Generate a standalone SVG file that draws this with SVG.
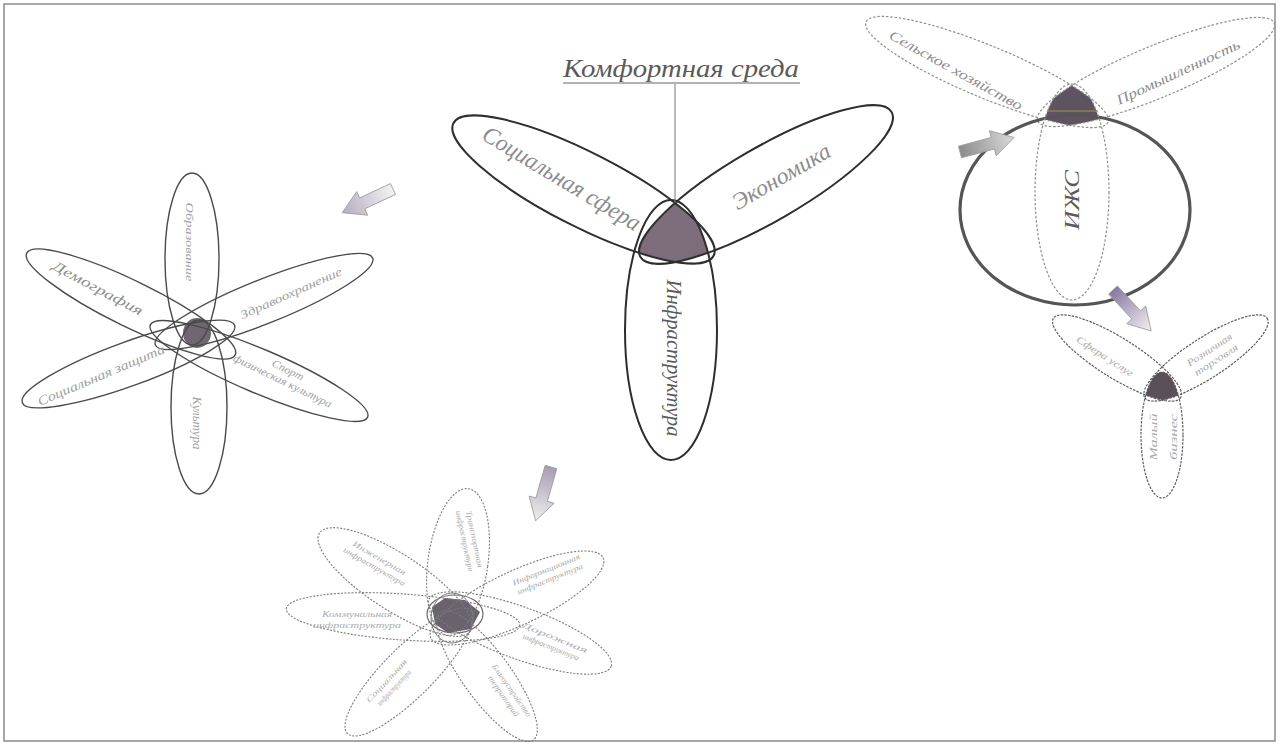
<svg xmlns="http://www.w3.org/2000/svg" width="1280" height="744" viewBox="0 0 1280 744">
<style>
.lbl{font-family:"Liberation Serif","DejaVu Serif",serif;font-style:italic;text-anchor:middle;}
.t-main{fill:#8c8c8c;}
.t-dark{fill:#5a5a5a;}
.t-light{fill:#a0a0a0;}
.t-pale{fill:#ababab;}
.frame{fill:none;stroke:#8a8a8a;stroke-width:1.5}
.pc{fill:none;stroke:#2e2e2e;stroke-width:2}
.pl{fill:none;stroke:#4a4a4a;stroke-width:1.4}
.pd{fill:none;stroke:#8e8e8e;stroke-width:1.2;stroke-dasharray:2.5 1.8}
.ps{fill:none;stroke:#5e5e5e;stroke-width:1.2;stroke-dasharray:2.5 1.2}
.pb{fill:none;stroke:#7a7a7a;stroke-width:1.1;stroke-dasharray:2 1.5}
.arrow{stroke:#9a9a9a;stroke-width:0.8}
</style>
<defs>
<path id="arr" d="M0,-6 L34,-6 L34,-13 L56,0 L34,13 L34,6 L0,6 Z"/>
<linearGradient id="gLav" x1="0" y1="0" x2="1" y2="0"><stop offset="0" stop-color="#f2f2f2"/><stop offset="1" stop-color="#b6adc2"/></linearGradient>
<linearGradient id="gLav2" x1="0" y1="0" x2="1" y2="0"><stop offset="0" stop-color="#a89cb4"/><stop offset="1" stop-color="#eeeeee"/></linearGradient>
<linearGradient id="gGray" x1="0" y1="0" x2="1" y2="0"><stop offset="0" stop-color="#8c8c8c"/><stop offset="1" stop-color="#dadada"/></linearGradient>
<linearGradient id="gPur" x1="0" y1="0" x2="1" y2="0"><stop offset="0" stop-color="#8a78a0"/><stop offset="1" stop-color="#f2f2f2"/></linearGradient>
<clipPath id="cSoc"><ellipse cx="583.5" cy="189.5" rx="146" ry="37" transform="rotate(27 583.5 189.5)"/></clipPath>
<clipPath id="cEco"><ellipse cx="766" cy="184.5" rx="145" ry="37" transform="rotate(-30 766 184.5)"/></clipPath>
<clipPath id="cAgr"><ellipse cx="987" cy="72" rx="131" ry="26" transform="rotate(22.5 987 72)"/></clipPath>
<clipPath id="cInd"><ellipse cx="1156" cy="72" rx="128" ry="26" transform="rotate(-22.5 1156 72)"/></clipPath>
<clipPath id="cSL"><ellipse cx="1117" cy="358" rx="75" ry="20" transform="rotate(32 1117 358)"/></clipPath>
<clipPath id="cSR"><ellipse cx="1206" cy="358" rx="73" ry="20" transform="rotate(-33 1206 358)"/></clipPath>
</defs>
<rect x="0" y="0" width="1280" height="744" fill="#ffffff"/>
<rect class="frame" x="4" y="4" width="1271" height="737"/>

<!-- Central group: Комфортная среда -->
<g id="komfortnaya-sreda">
<text class="lbl t-dark" x="681" y="77" font-size="25" textLength="236" lengthAdjust="spacingAndGlyphs">Комфортная среда</text>
<line x1="563" y1="83" x2="800" y2="83" stroke="#666" stroke-width="1"/>
</g>
<g id="center-core">
<g clip-path="url(#cSoc)"><g clip-path="url(#cEco)"><ellipse cx="671" cy="330" rx="46" ry="130" fill="#7d6c79"/></g></g>
</g>
<g id="socialnaya-sfera">
<ellipse class="pc" cx="583.5" cy="189.5" rx="146" ry="37" transform="rotate(27 583.5 189.5)"/>
<text class="lbl t-main" font-size="24" textLength="180" lengthAdjust="spacingAndGlyphs" transform="translate(562 178) rotate(31)" dy="0.35em">Социальная сфера</text>
</g>
<g id="ekonomika">
<ellipse class="pc" cx="766" cy="184.5" rx="145" ry="37" transform="rotate(-30 766 184.5)"/>
<text class="lbl t-main" font-size="23" textLength="110" lengthAdjust="spacingAndGlyphs" transform="translate(781 176) rotate(-30)" dy="0.35em">Экономика</text>
</g>
<g id="infrastruktura">
<ellipse class="pc" cx="671" cy="330" rx="46" ry="130"/>
<text class="lbl t-dark" font-size="22" textLength="157" lengthAdjust="spacingAndGlyphs" transform="translate(675 358) rotate(90)" dy="0.35em">Инфраструктура</text>
</g>

<!-- Top-right group -->
<g id="tr-core">
<g clip-path="url(#cAgr)"><g clip-path="url(#cInd)"><ellipse cx="1072" cy="192" rx="37" ry="108" fill="#5e5460"/></g></g>
<line x1="1048" y1="111" x2="1098" y2="111" stroke="#9c8e62" stroke-width="1.5" opacity="0.7"/>
</g>
<g id="selskoe-hozyaistvo">
<ellipse class="pd" cx="987" cy="72" rx="131" ry="26" transform="rotate(22.5 987 72)"/>
<text class="lbl t-main" font-size="14" textLength="150" lengthAdjust="spacingAndGlyphs" transform="translate(956 70) rotate(29)" dy="0.35em">Сельское хозяйство</text>
</g>
<g id="promyshlennost">
<ellipse class="pd" cx="1156" cy="72" rx="128" ry="26" transform="rotate(-22.5 1156 72)"/>
<text class="lbl t-main" font-size="14" textLength="135" lengthAdjust="spacingAndGlyphs" transform="translate(1178 72) rotate(-25)" dy="0.35em">Промышленность</text>
</g>
<g id="izhs">
<ellipse cx="1075" cy="210" rx="115" ry="95" fill="none" stroke="#555" stroke-width="3.2"/>
<ellipse class="pd" cx="1072" cy="192" rx="37" ry="108"/>
<text class="lbl t-dark" font-size="20" textLength="60" lengthAdjust="spacingAndGlyphs" transform="translate(1072 200) rotate(-90)" dy="0.35em">ИЖС</text>
</g>

<!-- Small right group -->
<g id="sr-core">
<g clip-path="url(#cSL)"><g clip-path="url(#cSR)"><ellipse cx="1162" cy="435" rx="21" ry="63" fill="#5b4f5a"/></g></g>
</g>
<g id="sfera-uslug">
<ellipse class="ps" cx="1117" cy="358" rx="75" ry="20" transform="rotate(32 1117 358)"/>
<text class="lbl t-pale" font-size="10" textLength="66" lengthAdjust="spacingAndGlyphs" transform="translate(1105 356) rotate(33)" dy="0.35em">Сфера услуг</text>
</g>
<g id="torgovlya">
<ellipse class="ps" cx="1206" cy="358" rx="73" ry="20" transform="rotate(-33 1206 358)"/>
<g transform="translate(1213 355) rotate(-33)">
<text class="lbl t-pale" font-size="10" y="-3" textLength="52" lengthAdjust="spacingAndGlyphs">Розничная</text>
<text class="lbl t-pale" font-size="10" y="9" textLength="50" lengthAdjust="spacingAndGlyphs">торговля</text>
</g>
</g>
<g id="malyi-biznes">
<ellipse class="ps" cx="1162" cy="435" rx="21" ry="63"/>
<g transform="translate(1163 437) rotate(-90)">
<text class="lbl t-pale" font-size="10" y="-6" textLength="47" lengthAdjust="spacingAndGlyphs">Малый</text>
<text class="lbl t-pale" font-size="10" y="14" textLength="46" lengthAdjust="spacingAndGlyphs">бизнес</text>
</g>
</g>

<!-- Left group: social sphere -->
<g id="left-core">
<ellipse cx="197" cy="333" rx="14" ry="15" fill="#6f6672"/>
</g>
<g id="obrazovanie">
<ellipse class="pl" cx="192" cy="259" rx="27" ry="86"/>
<text class="lbl t-light" font-size="11" textLength="79" lengthAdjust="spacingAndGlyphs" transform="translate(190 242) rotate(90)" dy="0.35em">Образование</text>
</g>
<g id="kultura">
<ellipse class="pl" cx="199" cy="407" rx="28" ry="87"/>
<text class="lbl t-light" font-size="12" textLength="53" lengthAdjust="spacingAndGlyphs" transform="translate(197 423) rotate(90)" dy="0.35em">Культура</text>
</g>
<g id="demografiya">
<ellipse class="pl" cx="131" cy="304" rx="116" ry="23" transform="rotate(26 131 304)"/>
<text class="lbl t-main" font-size="14" textLength="100" lengthAdjust="spacingAndGlyphs" transform="translate(98 288) rotate(28)" dy="0.35em">Демография</text>
</g>
<g id="zdravoohranenie">
<ellipse class="pl" cx="264" cy="301.5" rx="117" ry="22" transform="rotate(-21.8 264 301.5)"/>
<text class="lbl t-light" font-size="12" textLength="110" lengthAdjust="spacingAndGlyphs" transform="translate(291 293) rotate(-24)" dy="0.35em">Здравоохранение</text>
</g>
<g id="socialnaya-zashchita">
<ellipse class="pl" cx="128.5" cy="364" rx="113" ry="22" transform="rotate(-20 128.5 364)"/>
<text class="lbl t-light" font-size="13" textLength="137" lengthAdjust="spacingAndGlyphs" transform="translate(101 375) rotate(-23)" dy="0.35em">Социальная защита</text>
</g>
<g id="sport">
<ellipse class="pl" cx="259" cy="371" rx="118" ry="22" transform="rotate(23 259 371)"/>
<g transform="translate(285 376) rotate(26)">
<text class="lbl t-light" font-size="11" y="-3" textLength="34" lengthAdjust="spacingAndGlyphs">Спорт</text>
<text class="lbl t-light" font-size="11" y="9" textLength="108" lengthAdjust="spacingAndGlyphs">физическая культура</text>
</g>
</g>

<!-- Bottom group: infrastructure -->
<g id="bottom-core">
<path d="M432,607 L445,598 L465,600 L480,612 L471,629 L448,633 L435,624 Z" fill="#6a626c"/>
<ellipse cx="455" cy="614" rx="28" ry="19" fill="none" stroke="#6a6a6a" stroke-width="1.2"/>
<ellipse cx="452" cy="618" rx="21" ry="25" fill="none" stroke="#7a7a7a" stroke-width="1"/>
</g>
<g id="transportnaya">
<ellipse class="pb" cx="458" cy="562" rx="30" ry="74" transform="rotate(8 458 562)"/>
<g transform="translate(470 540) rotate(78)">
<text class="lbl t-pale" font-size="8" y="-2" textLength="58" lengthAdjust="spacingAndGlyphs">Транспортная</text>
<text class="lbl t-pale" font-size="8" y="8" textLength="62" lengthAdjust="spacingAndGlyphs">инфраструктура</text>
</g>
</g>
<g id="inzhenernaya">
<ellipse class="pb" cx="395" cy="582" rx="90" ry="28" transform="rotate(33 395 582)"/>
<g transform="translate(377 562) rotate(30)">
<text class="lbl t-pale" font-size="8" y="-2" textLength="60" lengthAdjust="spacingAndGlyphs">Инженерная</text>
<text class="lbl t-pale" font-size="8" y="8" textLength="70" lengthAdjust="spacingAndGlyphs">инфраструктура</text>
</g>
</g>
<g id="informacionnaya">
<ellipse class="pb" cx="517" cy="598" rx="95" ry="27" transform="rotate(-25 517 598)"/>
<g transform="translate(548 574) rotate(-22)">
<text class="lbl t-pale" font-size="8" y="-2" textLength="72" lengthAdjust="spacingAndGlyphs">Информационная</text>
<text class="lbl t-pale" font-size="8" y="8" textLength="70" lengthAdjust="spacingAndGlyphs">инфраструктура</text>
</g>
</g>
<g id="kommunalnaya">
<ellipse class="pb" cx="403" cy="617" rx="117" ry="23" transform="rotate(4 403 617)"/>
<g transform="translate(357 620)">
<text class="lbl t-pale" font-size="8" y="-3" textLength="70" lengthAdjust="spacingAndGlyphs">Коммунальная</text>
<text class="lbl t-pale" font-size="8" y="8" textLength="88" lengthAdjust="spacingAndGlyphs">инфраструктура</text>
</g>
</g>
<g id="dorozhnaya">
<ellipse class="pb" cx="520" cy="633" rx="97" ry="26" transform="rotate(20 520 633)"/>
<g transform="translate(553 642) rotate(22)">
<text class="lbl t-pale" font-size="8" y="-2" textLength="70" lengthAdjust="spacingAndGlyphs">Дорожная</text>
<text class="lbl t-pale" font-size="8" y="8" textLength="60" lengthAdjust="spacingAndGlyphs">инфраструктура</text>
</g>
</g>
<g id="socialnaya-infra">
<ellipse class="pb" cx="409" cy="672" rx="87" ry="25" transform="rotate(-45 409 672)"/>
<g transform="translate(390 684) rotate(-47)">
<text class="lbl t-pale" font-size="8" y="-2" textLength="56" lengthAdjust="spacingAndGlyphs">Социальная</text>
<text class="lbl t-pale" font-size="8" y="8" textLength="46" lengthAdjust="spacingAndGlyphs">инфраструктура</text>
</g>
</g>
<g id="blagoustroystvo">
<ellipse class="pb" cx="487" cy="676" rx="79" ry="24" transform="rotate(54 487 676)"/>
<g transform="translate(508 693) rotate(55)">
<text class="lbl t-pale" font-size="8" y="-2" textLength="62" lengthAdjust="spacingAndGlyphs">Благоустройство</text>
<text class="lbl t-pale" font-size="8" y="8" textLength="48" lengthAdjust="spacingAndGlyphs">территорий</text>
</g>
</g>

<!-- Connectors -->
<g id="connectors">
<line x1="675" y1="84" x2="675" y2="203" stroke="#777" stroke-width="1"/>
<use href="#arr" class="arrow" fill="url(#gLav)" transform="translate(393 189) rotate(155)"/>
<use href="#arr" class="arrow" fill="url(#gLav2)" transform="translate(551 467) rotate(106)"/>
<use href="#arr" class="arrow" fill="url(#gGray)" transform="translate(960 152) rotate(-15)"/>
<use href="#arr" class="arrow" fill="url(#gPur)" transform="translate(1113 290) rotate(47)"/>
</g>
</svg>
